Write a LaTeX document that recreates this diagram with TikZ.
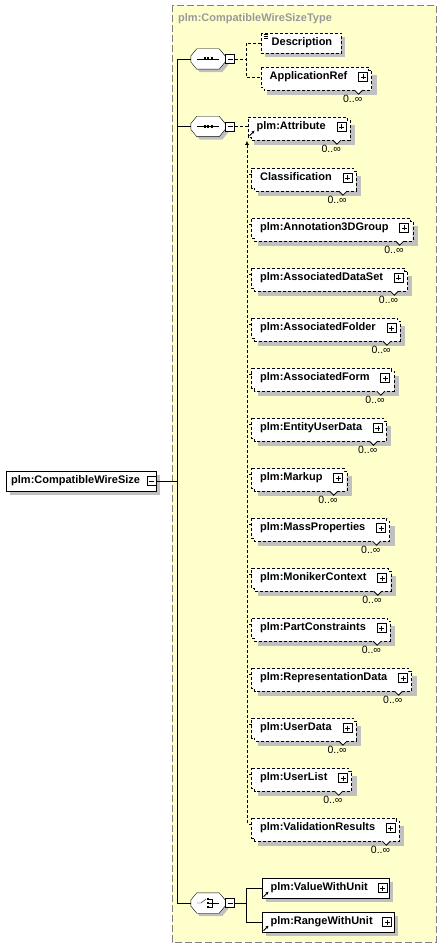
\documentclass[tikz,border=0pt]{standalone}
\usepackage{fontspec}
\setmainfont{Liberation Sans}
\usetikzlibrary{calc,arrows.meta}
\pgfdeclarelayer{back}\pgfdeclarelayer{shade}\pgfdeclarelayer{boxes}
\pgfsetlayers{back,shade,boxes,main}
\definecolor{typebg}{HTML}{FFFFCC}
\definecolor{shadowc}{HTML}{C0C0C0}
\definecolor{typeedge}{HTML}{808080}
\definecolor{titlec}{HTML}{999999}
\tikzset{
 elnode/.style={anchor=west, inner sep=0pt, minimum height=20pt, text height=8pt, text depth=2.5pt, font=\bfseries\fontsize{11}{13}\selectfont},
 compnode/.style={inner sep=0pt, minimum width=34pt, minimum height=20pt},
 btn/.style={draw, fill=white, line width=0.8pt, minimum size=9pt, inner sep=0pt, rectangle},
 btnplus/.style={btn, path picture={\draw[line width=0.8pt] (path picture bounding box.center) +(-2.5,0) -- +(2.5,0) +(0,-2.5) -- +(0,2.5);}},
 btnminus/.style={btn, path picture={\draw[line width=0.8pt] (path picture bounding box.center) +(-2.5,0) -- +(2.5,0);}},
 mult/.style={font=\fontsize{10.5}{12}\selectfont, inner sep=0pt, anchor=east},
 dsh/.style={dash pattern=on 3pt off 2pt},
 refarr/.style={line width=0.8pt, -{Stealth[length=3pt,width=3pt]}}
}
\newcommand\octa[3]{%
 \path[#3] ($(#1.west)+(#2,#2-3)$) -- ($(#1.north west)+(#2+6,#2)$) -- ($(#1.north east)+(#2-6,#2)$) -- ($(#1.east)+(#2,#2-3)$) -- ($(#1.east)+(#2,#2+3)$) -- ($(#1.south east)+(#2-6,#2)$) -- ($(#1.south west)+(#2+6,#2)$) -- ($(#1.west)+(#2,#2+3)$) -- cycle;}
\newcommand\compo[3]{% name, x, y
 \node[compnode] (#1) at (#2,#3) {};
 \begin{pgfonlayer}{shade}\octa{#1}{3}{fill=shadowc}\end{pgfonlayer}
 \begin{pgfonlayer}{boxes}\octa{#1}{0}{draw,fill=white}\end{pgfonlayer}
 \node[btnminus] (#1-btn) at ($(#1.east)+(5,0)$) {};}
\newcommand\multiel[4]{% name, x, y, text
 \node[elnode] (#1) at (#2,#3) {\hspace*{8.5pt}#4\hspace*{21pt}};
 \begin{pgfonlayer}{shade}
 \fill[shadowc] ($(#1.north west)+(6,8)$) rectangle ($(#1.south east)+(8,8)$);
 \end{pgfonlayer}
 \begin{pgfonlayer}{boxes}
 \draw[dsh, fill=white] (#1.north west) -- (#1.north east) -- ++(0,3) -- ++(3,0) -- ($(#1.south east)+(3,3)$) -- ($(#1.south west)+(3,3)$) -- ++(0,-3) -- (#1.south west) -- cycle;
 \end{pgfonlayer}
 \node[btnplus] (#1-btn) at ($(#1.east)+(-5.5,0)$) {};
 \draw[fill=white, line width=0.8pt] ($(#1.south east)+(-14,3)$) -- ++(4,4) -- ++(4,-4);
 \node[mult] (#1-mult) at ($(#1.south east)+(-6,12)$) {0..∞};}
\newcommand\solidel[4]{% name, x, y, text
 \node[elnode] (#1) at (#2,#3) {\hspace*{8.5pt}#4\hspace*{21pt}};
 \begin{pgfonlayer}{shade}
 \fill[shadowc] ($(#1.north west)+(4,4)$) rectangle ($(#1.south east)+(4,4)$);
 \end{pgfonlayer}
 \begin{pgfonlayer}{boxes}
 \draw[fill=white] (#1.north west) rectangle (#1.south east);
 \end{pgfonlayer}
 \node[btnplus] (#1-btn) at ($(#1.east)+(-6.5,0)$) {};
 \draw[refarr] ($(#1.south west)+(1.5,-1.5)$) -- ($(#1.south west)+(6.5,-6.5)$);}
\newcommand\tick[1]{\draw[dsh] ($(#1.north west)+(0,6)$) -- ++(-4.5,0);}
\begin{document}
\begin{tikzpicture}[x=1pt,y=-1pt,line width=1pt]
\begin{pgfonlayer}{back}
\fill[white] (0,0) rectangle (439,949);
\draw[fill=typebg, draw=typeedge, dash pattern=on 7pt off 3pt] (172,5) rectangle (436,942);
\end{pgfonlayer}
\useasboundingbox (0,0) rectangle (439,949);
\node[anchor=west, inner sep=0pt, text=titlec, font=\bfseries\fontsize{11}{13}\selectfont] (title) at (178,18.5) {plm:CompatibleWireSizeType};
% root
\node[elnode] (root) at (6,481) {\hspace*{5pt}plm:CompatibleWireSize\hspace*{16pt}};
\begin{pgfonlayer}{shade}\fill[shadowc] ($(root.north west)+(4,4)$) rectangle ($(root.south east)+(4,4)$);\end{pgfonlayer}
\begin{pgfonlayer}{boxes}\draw[fill=white] (root.north west) rectangle (root.south east);\end{pgfonlayer}
\node[btnminus] (root-btn) at ($(root.east)+(-4.5,0)$) {};
% compositors
\compo{c1}{208}{59}
\compo{c2}{208}{126.5}
\compo{c3}{208}{903}
% sequence symbols
\foreach \c in {c1,c2}{
 \draw ($(\c.center)+(-11,0)$) -- ($(\c.center)+(11,0)$);
 \foreach \d in {-4.5,-1,2.5} \fill ($(\c.center)+(\d,-1.5)$) rectangle ++(2,3);
}
% choice symbol
\draw ($(c3.center)+(-11,0)$) -- ++(4,0) -- ++(5,-4);
\foreach \d in {-5,-1,3} \fill ($(c3.center)+(-1,\d)$) rectangle ++(2,2);
\draw ($(c3.center)+(1,-4)$) -- ++(3,0) -- ++(0,8) -- ++(-3,0);
\draw ($(c3.center)+(1,0)$) -- ($(c3.center)+(11,0)$);
% trunk from root
\coordinate (tk) at (177,481);
\draw (root-btn.east) -- (tk);
\draw (c1.west) -- (c1.west -| tk) -- (c3.west -| tk) -- (c3.west);
\draw (c2.west) -- (c2.west -| tk);
% sequence 1 children
\node[elnode] (desc) at (261,43) {\hspace*{10.5pt}Description\hspace*{9pt}};
\begin{pgfonlayer}{shade}\fill[shadowc] ($(desc.north west)+(4,4)$) rectangle ($(desc.south east)+(4,4)$);\end{pgfonlayer}
\begin{pgfonlayer}{boxes}\draw[dsh, fill=white] (desc.north west) rectangle (desc.south east);\end{pgfonlayer}
\draw[line width=0.7pt] ($(desc.north west)+(2.5,2)$) -- ++(4.5,0) ($(desc.north west)+(2.5,4)$) -- ++(4.5,0) ($(desc.north west)+(2.5,6)$) -- ++(4.5,0);
\multiel{appref}{261}{77}{ApplicationRef}
\draw[dsh] (c1-btn.east) -- ++(11,0) coordinate (j1);
\draw[dsh] (desc.west) -| (j1) |- (appref.west);
% sequence 2 children
\multiel{attr}{248}{127}{plm:Attribute}
\draw[refarr] ($(attr.south west)+(1.5,-1.5)$) -- ($(attr.south west)+(6.5,-6.5)$);
\draw[dsh] (c2-btn.east) -- (c2-btn.east -| attr.west);
\multiel{classif}{251.5}{178}{Classification}
\multiel{annot}{251.5}{228}{plm:Annotation3DGroup}
\multiel{adset}{251.5}{278}{plm:AssociatedDataSet}
\multiel{afold}{251.5}{328}{plm:AssociatedFolder}
\multiel{aform}{251.5}{378}{plm:AssociatedForm}
\multiel{eud}{251.5}{428}{plm:EntityUserData}
\multiel{markup}{251.5}{478}{plm:Markup}
\multiel{massp}{251.5}{528}{plm:MassProperties}
\multiel{monik}{251.5}{578}{plm:MonikerContext}
\multiel{partc}{251.5}{628}{plm:PartConstraints}
\multiel{repd}{251.5}{678}{plm:RepresentationData}
\multiel{userd}{251.5}{728}{plm:UserData}
\multiel{userl}{251.5}{778}{plm:UserList}
\multiel{valid}{251.5}{828}{plm:ValidationResults}
\coordinate (t2) at (247,141);
\draw[dsh, -{Latex[length=4pt,width=4pt]}] ($(valid.north west)+(0,6)$) -- ++(-4.5,0) -- (t2);
\foreach \n in {classif,annot,adset,afold,aform,eud,markup,massp,monik,partc,repd,userd,userl} {\tick{\n}}
% choice children
\solidel{vwu}{262}{888}{plm:ValueWithUnit}
\solidel{rwu}{262}{922}{plm:RangeWithUnit}
\draw (c3-btn.east) -- ++(11,0) coordinate (j3);
\draw (vwu.west) -| (j3) |- (rwu.west);
\end{tikzpicture}
\end{document}
